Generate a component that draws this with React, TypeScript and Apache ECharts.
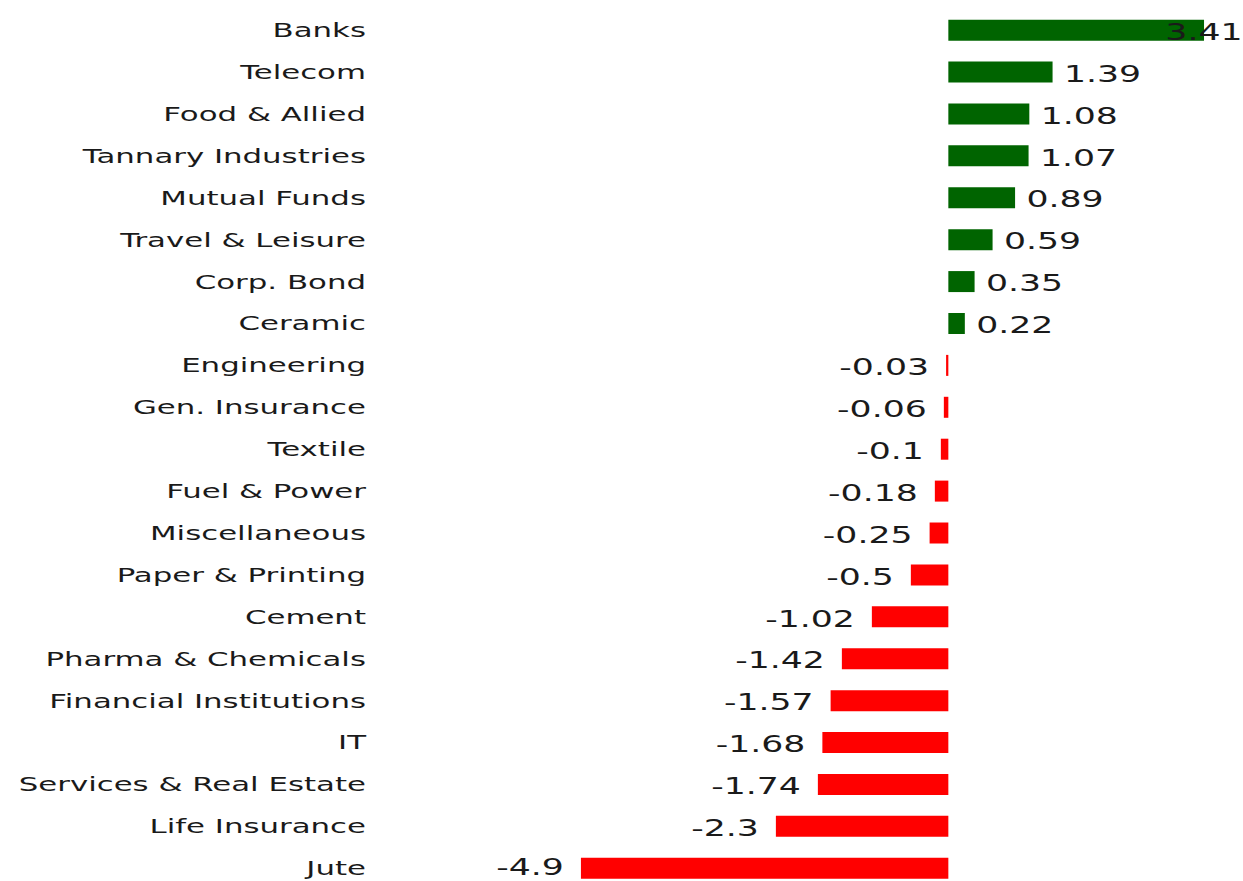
import React, { useEffect, useRef } from "react";
import * as echarts from "echarts";

const categories = [
  "Banks",
  "Telecom",
  "Food & Allied",
  "Tannary Industries",
  "Mutual Funds",
  "Travel & Leisure",
  "Corp. Bond",
  "Ceramic",
  "Engineering",
  "Gen. Insurance",
  "Textile",
  "Fuel & Power",
  "Miscellaneous",
  "Paper & Printing",
  "Cement",
  "Pharma & Chemicals",
  "Financial Institutions",
  "IT",
  "Services & Real Estate",
  "Life Insurance",
  "Jute",
];

const values = [
  3.41, 1.39, 1.08, 1.07, 0.89, 0.59, 0.35, 0.22, -0.03, -0.06, -0.1, -0.18,
  -0.25, -0.5, -1.02, -1.42, -1.57, -1.68, -1.74, -2.3, -4.9,
];

const POS_COLOR = "#006400";
const NEG_COLOR = "#ff0000";
const STRETCH = 1243 / 807;
const BASE_W = 807;
const BASE_H = 900;

export default function App() {
  const ref = useRef<HTMLDivElement>(null);

  useEffect(() => {
    if (!ref.current) return;
    const chart = echarts.init(ref.current, undefined, { renderer: "svg" });
    const last = values.length - 1;
    const data = values.map((v, i) => {
      const pos = v >= 0;
      const item: any = {
        value: v,
        itemStyle: { color: pos ? POS_COLOR : NEG_COLOR },
        label: {
          position: pos ? "right" : "left",
          distance: pos ? 7.4 : 11.1,
          offset: [0, 2],
        },
      };
      if (i === 0) {
        item.label.offset = [-32.5, 2];
      }
      if (i === last) {
        item.label.offset = [0, -1];
      }
      return item;
    });
    chart.setOption({
      animation: false,
      grid: { left: 241, right: 25.3, top: 9.2, height: 880 },
      xAxis: {
        type: "value",
        min: -7.697,
        max: 3.41,
        show: false,
        splitLine: { show: false },
      },
      yAxis: {
        type: "category",
        data: categories,
        inverse: true,
        axisLine: { show: false },
        axisTick: { show: false },
        axisLabel: {
          margin: 3.4,
          fontSize: 20,
          color: "#1a1a1a",
          fontFamily: "DejaVu Sans",
        },
      },
      series: [
        {
          type: "bar",
          data,
          barWidth: 21,
          label: {
            show: true,
            fontSize: 22.5,
            color: "#1a1a1a",
            fontFamily: "DejaVu Sans",
            formatter: (p: any) => String(p.value),
          },
        },
      ],
    });
    return () => chart.dispose();
  }, []);

  return (
    <div
      style={{
        position: "absolute",
        left: 0,
        top: 0,
        width: 1243,
        height: 881,
        overflow: "hidden",
      }}
    >
      <div
        ref={ref}
        style={{
          width: BASE_W,
          height: BASE_H,
          transform: `scaleX(${STRETCH})`,
          transformOrigin: "0 0",
        }}
      />
    </div>
  );
}
